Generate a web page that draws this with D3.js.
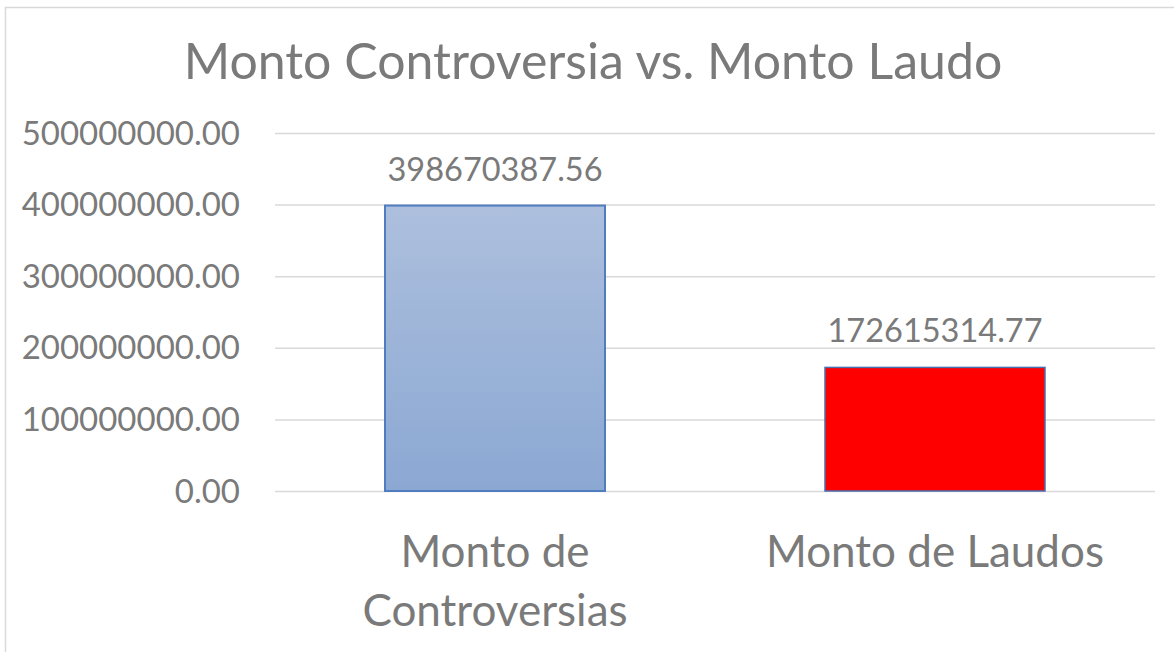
<!DOCTYPE html>
<html>
<head>
<meta charset="utf-8">
<script src="https://cdn.jsdelivr.net/npm/d3@7"></script>
<style>
  body { margin: 0; background: #fff; }
  svg { display: block; font-family: Lato, "Open Sans", sans-serif; }
  .grid line { stroke: #d9d9d9; stroke-width: 1.5; }
  .grid .domain { display: none; }
  text { fill: #7a7a7a; }
</style>
</head>
<body>
<svg width="1174" height="652"></svg>
<script>
// chart data
var categories = [["Monto de", "Controversias"], ["Monto de Laudos"]];
var values = [398670387.56, 172615314.77];
var tickValues = [0, 100000000, 200000000, 300000000, 400000000, 500000000];
var title = "Monto Controversia vs. Monto Laudo";

var svg = d3.select("svg");

// outer chart border
svg.append("rect")
  .attr("x", 5.5).attr("y", 7.5)
  .attr("width", 1180).attr("height", 700)
  .attr("fill", "none")
  .attr("stroke", "#d9d9d9")
  .attr("stroke-width", 1.5);

var margin = {top: 133, right: 19, bottom: 161, left: 275};
var plotWidth = 1174 - margin.left - margin.right;
var plotHeight = 652 - margin.top - margin.bottom;

var yScale = d3.scaleLinear().domain([0, 500000000]).range([plotHeight, 0]);
var xScale = d3.scaleBand().domain(d3.range(values.length)).range([0, plotWidth]).paddingInner(0.5).paddingOuter(0.25);

var plot = svg.append("g").attr("transform", "translate(" + margin.left + "," + margin.top + ")");

// gridlines
plot.append("g").attr("class", "grid")
  .call(d3.axisLeft(yScale).tickValues(tickValues).tickSize(-plotWidth).tickFormat(""));

// tick labels
plot.selectAll("text.ytick")
  .data(tickValues)
  .enter().append("text")
  .attr("class", "ytick")
  .attr("x", -35)
  .attr("y", function(d) { return yScale(d); })
  .attr("dy", "0.35em")
  .attr("text-anchor", "end")
  .style("font-size", "33px")
  .text(function(d) { return d3.format(".2f")(d); });

// bar gradient
var grad = svg.append("defs").append("linearGradient")
  .attr("id", "blueGrad").attr("x1", 0).attr("y1", 0).attr("x2", 0).attr("y2", 1);
grad.append("stop").attr("offset", "0%").attr("stop-color", "#adbfdd");
grad.append("stop").attr("offset", "100%").attr("stop-color", "#8ba8d3");

var fills = ["url(#blueGrad)", "#ff0000"];
var strokes = ["#4f7dbf", "#4a6fae"];

plot.selectAll("rect.bar")
  .data(values)
  .enter().append("rect")
  .attr("class", "bar")
  .attr("x", function(d, i) { return xScale(i); })
  .attr("width", xScale.bandwidth())
  .attr("y", function(d) { return yScale(d); })
  .attr("height", function(d) { return plotHeight - yScale(d); })
  .attr("fill", function(d, i) { return fills[i]; })
  .attr("stroke", function(d, i) { return strokes[i]; })
  .attr("stroke-width", function(d, i) { return i == 0 ? 2 : 1.5; });

// data labels
plot.selectAll("text.dlabel")
  .data(values)
  .enter().append("text")
  .attr("class", "dlabel")
  .attr("x", function(d, i) { return xScale(i) + xScale.bandwidth() / 2; })
  .attr("y", function(d) { return yScale(d) - 25; })
  .attr("text-anchor", "middle")
  .style("font-size", "32.5px")
  .text(function(d) { return d3.format(".2f")(d); });

// category labels
var cat = plot.selectAll("text.cat")
  .data(categories)
  .enter().append("text")
  .attr("class", "cat")
  .attr("text-anchor", "middle")
  .style("font-size", "44px")
  .attr("transform", function(d, i) { return "translate(" + (xScale(i) + xScale.bandwidth() / 2) + "," + (plotHeight + 76) + ")"; });

cat.selectAll("tspan")
  .data(function(d) { return d; })
  .enter().append("tspan")
  .attr("x", 0)
  .attr("y", function(d, i) { return i * 59; })
  .text(function(d) { return d; });

// title
svg.append("text")
  .attr("x", 593)
  .attr("y", 79)
  .attr("text-anchor", "middle")
  .style("font-size", "50px")
  .text(title);
</script>
</body>
</html>
